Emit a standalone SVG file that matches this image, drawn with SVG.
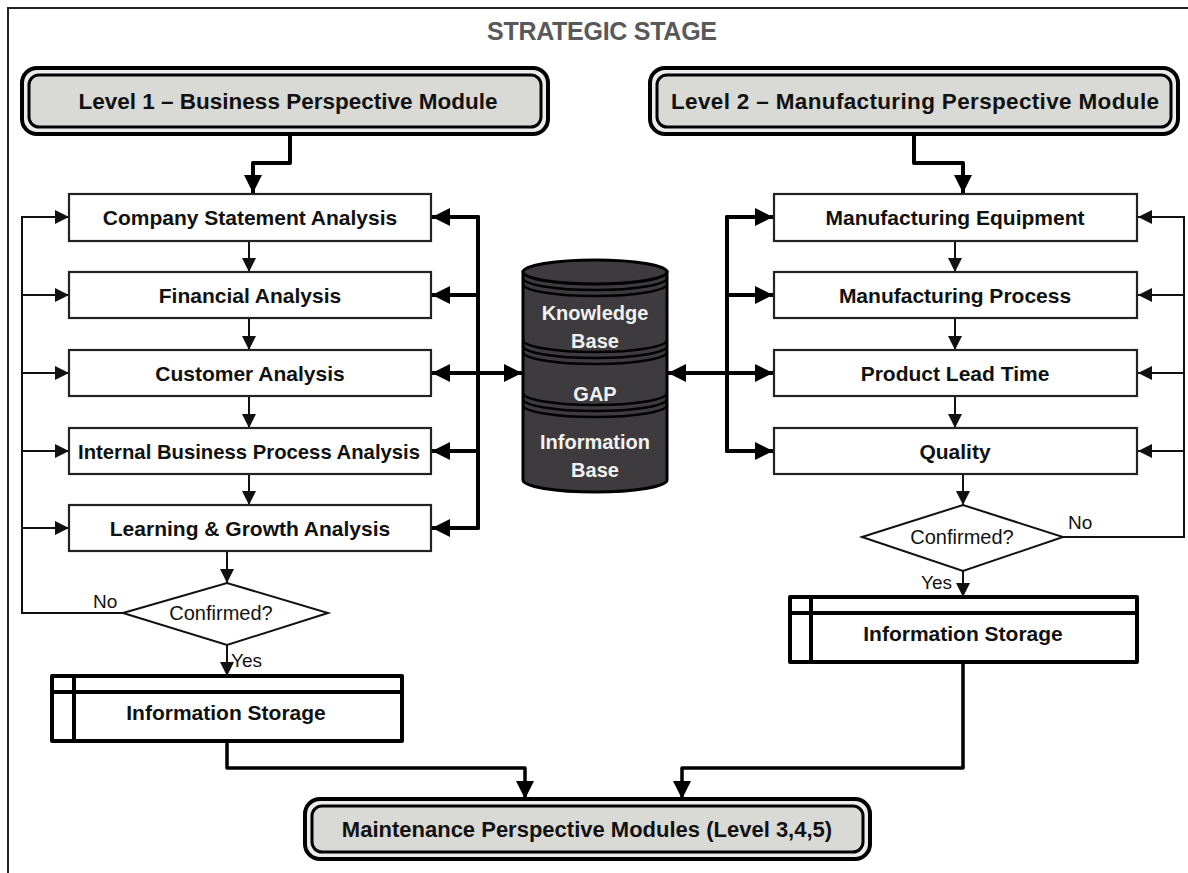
<svg xmlns="http://www.w3.org/2000/svg" width="1188" height="873" viewBox="0 0 1188 873">
  <style>
    .lbl { font-family: "Liberation Sans", Arial, sans-serif; font-weight: bold; fill: #111; text-anchor: middle; }
    .reg { font-family: "Liberation Sans", Arial, sans-serif; fill: #111; }
    .box { fill: #fff; stroke: #222; stroke-width: 2.2; }
    .thin { fill: none; stroke: #111; stroke-width: 2; stroke-linecap: round; }
    .thick { fill: none; stroke: #000; stroke-width: 4; stroke-linecap: round; stroke-linejoin: round; }
    .mid { fill: none; stroke: #000; stroke-width: 3.5; stroke-linecap: round; stroke-linejoin: round; }
    .modOut { fill: #ececea; stroke: #000; stroke-width: 4; }
    .modIn { fill: #d9d9d5; stroke: #000; stroke-width: 3; }
    .db { fill: #3e3b3e; stroke: #000; stroke-width: 3; }
    .band { fill: none; stroke: #000; stroke-width: 2.5; }
    .dbt { font-family: "Liberation Sans", Arial, sans-serif; font-weight: bold; fill: #f2f2f2; text-anchor: middle; font-size: 20px; }
    .store { fill: none; stroke: #000; stroke-width: 4; stroke-linecap: round; }
  </style>
  <defs>
    <marker id="ah" viewBox="0 0 14 14" refX="14" refY="7" markerWidth="14" markerHeight="14" markerUnits="userSpaceOnUse" orient="auto-start-reverse">
      <path d="M0,0 L14,7 L0,14 z" fill="#111"/>
    </marker>
    <marker id="ahb" viewBox="0 0 18 18" refX="18" refY="9" markerWidth="18" markerHeight="18" markerUnits="userSpaceOnUse" orient="auto-start-reverse">
      <path d="M0,0 L18,9 L0,18 z" fill="#000"/>
    </marker>
  </defs>

  <rect width="1188" height="873" fill="#fff"/>
  <!-- frame -->
  <path d="M8,873 L8,8 L1188,8" fill="none" stroke="#222" stroke-width="2"/>

  <text x="602" y="40" font-family="Liberation Sans, Arial, sans-serif" font-weight="bold" font-size="25" fill="#595959" text-anchor="middle" textLength="230">STRATEGIC STAGE</text>

  <!-- connectors -->
  <g id="connectors">
    <!-- module entries -->
    <path class="thick" d="M290,135 L290,163 L253,163 L253,193" marker-end="url(#ahb)"/>
    <path class="thick" d="M914,135 L914,163 L963,163 L963,193" marker-end="url(#ahb)"/>

    <!-- left column sequence -->
    <path class="thin" d="M249,241 L249,272" marker-end="url(#ah)"/>
    <path class="thin" d="M249,318 L249,350" marker-end="url(#ah)"/>
    <path class="thin" d="M249,396 L249,428" marker-end="url(#ah)"/>
    <path class="thin" d="M249,474 L249,505" marker-end="url(#ah)"/>
    <path class="thin" d="M227,551 L227,583" marker-end="url(#ah)"/>
    <path class="thin" d="M227,645 L227,676" marker-end="url(#ah)"/>

    <!-- left feedback loop -->
    <path class="thin" d="M123,613 L22,613 L22,217"/>
    <path class="thin" d="M22,217 L69,217" marker-end="url(#ah)"/>
    <path class="thin" d="M22,295 L69,295" marker-end="url(#ah)"/>
    <path class="thin" d="M22,373 L69,373" marker-end="url(#ah)"/>
    <path class="thin" d="M22,451 L69,451" marker-end="url(#ah)"/>
    <path class="thin" d="M22,528 L69,528" marker-end="url(#ah)"/>

    <!-- left knowledge bus -->
    <path class="thick" d="M478,217 L478,528"/>
    <path class="thick" d="M478,217 L432,217" marker-end="url(#ahb)"/>
    <path class="thick" d="M478,295 L432,295" marker-end="url(#ahb)"/>
    <path class="thick" d="M478,451 L432,451" marker-end="url(#ahb)"/>
    <path class="thick" d="M478,528 L432,528" marker-end="url(#ahb)"/>
    <path class="thick" d="M432,373 L522,373" marker-start="url(#ahb)" marker-end="url(#ahb)"/>

    <!-- right column sequence -->
    <path class="thin" d="M955,241 L955,272" marker-end="url(#ah)"/>
    <path class="thin" d="M955,318 L955,350" marker-end="url(#ah)"/>
    <path class="thin" d="M955,396 L955,428" marker-end="url(#ah)"/>
    <path class="thin" d="M963,474 L963,505" marker-end="url(#ah)"/>
    <path class="thin" d="M963,571 L963,597" marker-end="url(#ah)"/>

    <!-- right knowledge bus -->
    <path class="thick" d="M727,217 L727,451"/>
    <path class="thick" d="M727,217 L773,217" marker-end="url(#ahb)"/>
    <path class="thick" d="M727,295 L773,295" marker-end="url(#ahb)"/>
    <path class="thick" d="M727,451 L773,451" marker-end="url(#ahb)"/>
    <path class="thick" d="M668,373 L773,373" marker-start="url(#ahb)" marker-end="url(#ahb)"/>

    <!-- right feedback loop -->
    <path class="thin" d="M1063,537 L1184,537 L1184,217"/>
    <path class="thin" d="M1184,217 L1138,217" marker-end="url(#ah)"/>
    <path class="thin" d="M1184,295 L1138,295" marker-end="url(#ah)"/>
    <path class="thin" d="M1184,373 L1138,373" marker-end="url(#ah)"/>
    <path class="thin" d="M1184,451 L1138,451" marker-end="url(#ah)"/>

    <!-- storage to maintenance -->
    <path class="mid" d="M227,741 L227,768 L525,768 L525,799" marker-end="url(#ahb)"/>
    <path class="mid" d="M963,662 L963,768 L682,768 L682,799" marker-end="url(#ahb)"/>
  </g>

  <!-- module headers -->
  <g id="level1">
    <rect class="modOut" x="22" y="68" width="526" height="66" rx="15"/>
    <rect class="modIn" x="29" y="75" width="512" height="52" rx="10"/>
    <text class="lbl" x="288" y="109" font-size="22.5">Level 1 – Business Perspective Module</text>
  </g>
  <g id="level2">
    <rect class="modOut" x="650" y="68" width="528" height="66" rx="15"/>
    <rect class="modIn" x="657" y="75" width="514" height="52" rx="10"/>
    <text class="lbl" x="915" y="109" font-size="22.5" textLength="488">Level 2 – Manufacturing Perspective Module</text>
  </g>

  <!-- business perspective analyses -->
  <g id="company">
    <rect class="box" x="69" y="194" width="362" height="47"/>
    <text class="lbl" x="250" y="225" font-size="21">Company Statement Analysis</text>
  </g>
  <g id="financial">
    <rect class="box" x="69" y="272" width="362" height="46"/>
    <text class="lbl" x="250" y="303" font-size="21">Financial Analysis</text>
  </g>
  <g id="customer">
    <rect class="box" x="69" y="350" width="362" height="46"/>
    <text class="lbl" x="250" y="381" font-size="21">Customer Analysis</text>
  </g>
  <g id="internal">
    <rect class="box" x="69" y="428" width="362" height="46"/>
    <text class="lbl" x="249" y="459" font-size="21" textLength="342" lengthAdjust="spacingAndGlyphs">Internal Business Process Analysis</text>
  </g>
  <g id="learning">
    <rect class="box" x="69" y="505" width="362" height="46"/>
    <text class="lbl" x="250" y="536" font-size="21">Learning &amp; Growth Analysis</text>
  </g>

  <g id="decision1">
    <polygon points="123,613 227,583 328,613 227,645" fill="#fff" stroke="#111" stroke-width="2"/>
    <text class="reg" x="221" y="620" font-size="20" text-anchor="middle">Confirmed?</text>
    <text class="reg" x="93" y="608" font-size="19">No</text>
    <text class="reg" x="231" y="667" font-size="19">Yes</text>
  </g>

  <g id="storage1">
    <rect x="52" y="676" width="350" height="65" fill="#fff"/>
    <path class="store" d="M52,676 L402,676 M52,692 L402,692 M52,741 L402,741 M52,676 L52,741 M74,676 L74,741 M402,676 L402,741"/>
    <text class="lbl" x="226" y="720" font-size="21">Information Storage</text>
  </g>

  <!-- central repository -->
  <g id="database">
    <path class="db" d="M523,272 L523,480 A72,12 0 0 0 667,480 L667,272 Z"/>
    <ellipse class="db" cx="595" cy="272" rx="72" ry="12" fill="#474447"/>
    <path class="band" d="M523,278 A72,12 0 0 0 667,278 M523,284 A72,12 0 0 0 667,284"/>
    <path class="band" d="M523,340 A72,12 0 0 0 667,340 M523,346 A72,12 0 0 0 667,346 M523,352 A72,12 0 0 0 667,352"/>
    <path class="band" d="M523,393 A72,12 0 0 0 667,393 M523,399 A72,12 0 0 0 667,399 M523,405 A72,12 0 0 0 667,405"/>
    <text class="dbt" x="595" y="320">Knowledge</text>
    <text class="dbt" x="595" y="348">Base</text>
    <text class="dbt" x="595" y="401">GAP</text>
    <text class="dbt" x="595" y="449">Information</text>
    <text class="dbt" x="595" y="477">Base</text>
  </g>

  <!-- manufacturing perspective analyses -->
  <g id="equipment">
    <rect class="box" x="774" y="194" width="363" height="47"/>
    <text class="lbl" x="955" y="225" font-size="21">Manufacturing Equipment</text>
  </g>
  <g id="process">
    <rect class="box" x="774" y="272" width="363" height="46"/>
    <text class="lbl" x="955" y="303" font-size="21">Manufacturing Process</text>
  </g>
  <g id="leadtime">
    <rect class="box" x="774" y="350" width="363" height="46"/>
    <text class="lbl" x="955" y="381" font-size="21">Product Lead Time</text>
  </g>
  <g id="quality">
    <rect class="box" x="774" y="428" width="363" height="46"/>
    <text class="lbl" x="955" y="459" font-size="21">Quality</text>
  </g>

  <g id="decision2">
    <polygon points="862,537 963,505 1063,537 963,571" fill="#fff" stroke="#111" stroke-width="2"/>
    <text class="reg" x="962" y="544" font-size="20" text-anchor="middle">Confirmed?</text>
    <text class="reg" x="1068" y="529" font-size="19">No</text>
    <text class="reg" x="921" y="589" font-size="19">Yes</text>
  </g>

  <g id="storage2">
    <rect x="790" y="597" width="347" height="65" fill="#fff"/>
    <path class="store" d="M790,597 L1137,597 M790,613 L1137,613 M790,662 L1137,662 M790,597 L790,662 M811,597 L811,662 M1137,597 L1137,662"/>
    <text class="lbl" x="963" y="641" font-size="21">Information Storage</text>
  </g>

  <g id="maintenance">
    <rect class="modOut" x="305" y="799" width="565" height="60" rx="15"/>
    <rect class="modIn" x="312" y="806" width="551" height="46" rx="10"/>
    <text class="lbl" x="587" y="837" font-size="22">Maintenance Perspective Modules (Level 3,4,5)</text>
  </g>
</svg>
